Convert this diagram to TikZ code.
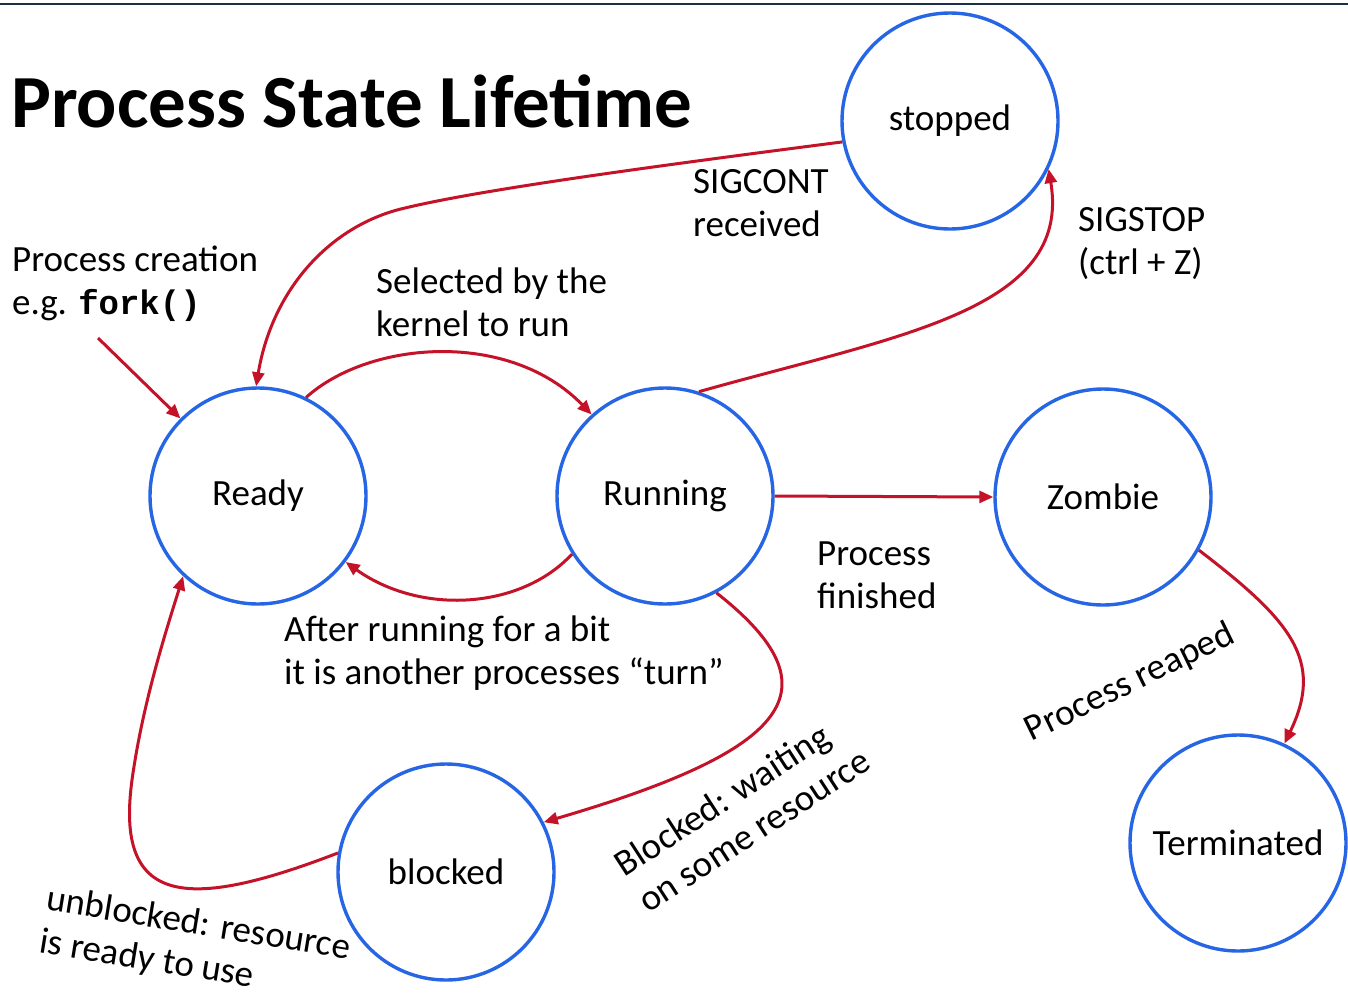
\documentclass[tikz,border=0pt]{standalone}
\usepackage{fontspec}
\setmainfont{Carlito}
\newfontfamily\codefont{Liberation Mono}
\usetikzlibrary{arrows.meta}
\definecolor{stateblue}{RGB}{38,102,228}
\definecolor{arrowred}{RGB}{196,18,40}
\definecolor{rulenavy}{RGB}{28,48,72}

\begin{document}
\begin{tikzpicture}[x=1pt,y=-1pt,
  state/.style={circle,draw=stateblue,line width=3.4pt,minimum size=216pt,
    inner sep=0pt,font=\fontsize{37}{44}\selectfont},
  trans/.style={draw=arrowred,line width=3pt,
    -{Triangle[length=14pt,width=12pt]}},
  lbl/.style={align=left,inner sep=0pt,font=\fontsize{37}{43}\selectfont}]

% canvas
\useasboundingbox (0,0) rectangle (1348,993);
\draw[rulenavy,line width=2.2pt] (0,4) -- (1348,4);

% title
\node[anchor=base west,inner sep=0pt,font=\fontsize{75}{80}\selectfont\bfseries]
  (title) at (11,127) {Process State Lifetime};

% states
\node[state] (stopped)    at (950,121)  {stopped};
\node[state] (ready)      at (258,496)  {Ready};
\node[state] (running)    at (665,496)  {Running};
\node[state] (zombie)     at (1103,497) {Zombie};
\node[state] (blocked)    at (446,872)  {blocked};
\node[state] (terminated) at (1238,843) {Terminated};

% transitions
\coordinate (create) at (98,338);
\draw[trans] (create) -- (ready.135);

\draw[trans] (ready.64) .. controls (370,340) and (510,330) .. (running.132);

\draw[trans] (running.212) .. controls (520,610) and (420,615) .. (ready.323);

\draw[trans] (running.72) .. controls (900,335) and (1072,310) .. (stopped.334);

\coordinate (bend) at (405,208);
\draw[trans] (stopped.191) .. controls (640,168) and (480,190) .. (bend)
  .. controls (330,225) and (272,290) .. (ready.91);

\draw[trans] (running.east) -- (zombie.west);

\draw[trans] (running.298) .. controls (840,690) and (790,750) .. (blocked.27);

\coordinate (corner) at (132,780);
\draw[trans] (blocked.170) .. controls (185,912) and (115,905) .. (corner)
  .. controls (142,708) and (163,640) .. (ready.227);

\draw[trans] (zombie.331) .. controls (1290,620) and (1325,660) .. (terminated.65);

% transition labels
\node[lbl,anchor=west] (lcreate) at (12,284)
  {Process creation\\e.g. {\codefont\bfseries\fontsize{34}{43}\selectfont fork()}};
\node[lbl,anchor=west] (lselect) at (376,302) {Selected by the\\kernel to run};
\node[lbl,anchor=west] (lcont) at (693,203) {SIGCONT\\received};
\node[lbl,anchor=west] (lstop) at (1078,244) {SIGSTOP\\(ctrl + Z)};
\node[lbl,anchor=west] (lfinish) at (817,575) {Process\\finished};
\node[lbl,anchor=west] (lturn) at (284,653)
  {After running for a bit\\it is another processes “turn”};
\node[lbl,rotate=33] (lwait) at (742,812) {Blocked: waiting\\on some resource};
\node[lbl,rotate=26] (lreap) at (1130,683) {Process reaped};
\node[lbl,rotate=-9.3] (lunblock) at (195,946) {unblocked: resource\\is ready to use};
\end{tikzpicture}
\end{document}
